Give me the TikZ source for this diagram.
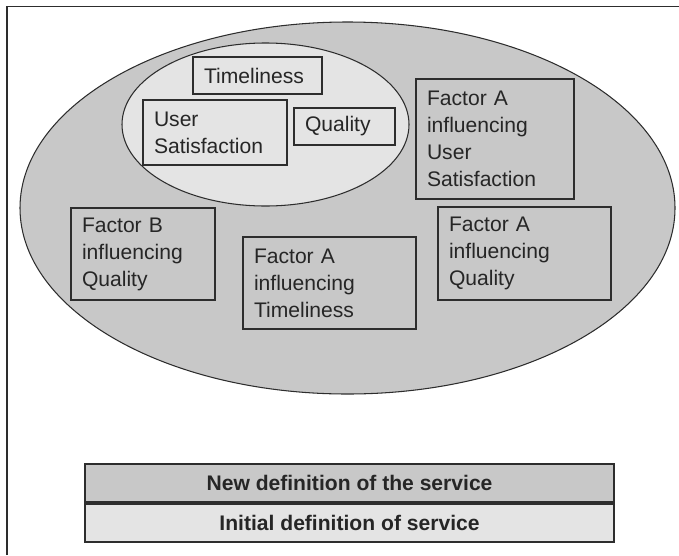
\documentclass[tikz,border=0pt]{standalone}
\usepackage{fontspec}
\setmainfont{Liberation Sans}
\usetikzlibrary{positioning}
\definecolor{outerfill}{RGB}{200,200,200}
\definecolor{innerfill}{RGB}{228,228,228}
\definecolor{edge}{RGB}{45,45,45}

\begin{document}
\begin{tikzpicture}[
  box/.style={draw=edge,line width=0.7pt,inner xsep=0.22cm,inner ysep=0pt,
    align=left,text=black!85,font=\fontsize{12}{15.4}\selectfont},
  layer/.style={draw=edge,line width=1pt,inner sep=0pt,minimum width=10.58cm,
    minimum height=0.76cm,text=black!85,font=\fontsize{12}{15.4}\selectfont\bfseries}]
  \useasboundingbox (0,0) rectangle (13.58,11.10);
  % frame, top and left only
  \draw[edge,line width=0.9pt] (0.14,0) -- (0.14,10.97) -- (13.58,10.97);
  % the service and its quality dimensions
  \draw[edge,line width=0.6pt,fill=outerfill] (6.95,6.94) ellipse [x radius=6.55cm,y radius=3.72cm];
  \draw[edge,line width=0.6pt,fill=innerfill] (5.31,8.61) ellipse [x radius=2.87cm,y radius=1.63cm];
  \node[box,fill=innerfill,text width=2.14cm,minimum height=0.74cm] (timeliness) at (5.15,9.59) {Timeliness};
  \node[box,fill=innerfill,text width=2.44cm,minimum height=1.30cm] (usersat) at (4.30,8.45) {User\\Satisfaction};
  \node[box,fill=innerfill,text width=1.58cm,minimum height=0.74cm] (quality) at (6.89,8.57) {Quality};
  % influencing factors
  \node[box,text width=2.72cm,minimum height=2.40cm] (facAus) at (9.90,8.32) {Factor A\\influencing\\User\\Satisfaction};
  \node[box,text width=2.44cm,minimum height=1.84cm] (facBq) at (2.86,6.02) {Factor B\\influencing\\Quality};
  \node[box,text width=3.02cm,minimum height=1.84cm] (facAt) at (6.59,5.44) {Factor A\\influencing\\Timeliness};
  \node[box,text width=3.02cm,minimum height=1.86cm] (facAq) at (10.49,6.03) {Factor A\\influencing\\Quality};
  % definitions
  \node[layer,fill=innerfill] (initdef) at (6.99,0.64) {Initial definition of service};
  \node[layer,fill=outerfill,above=0pt of initdef] (newdef) {New definition of the service};
\end{tikzpicture}
\end{document}
